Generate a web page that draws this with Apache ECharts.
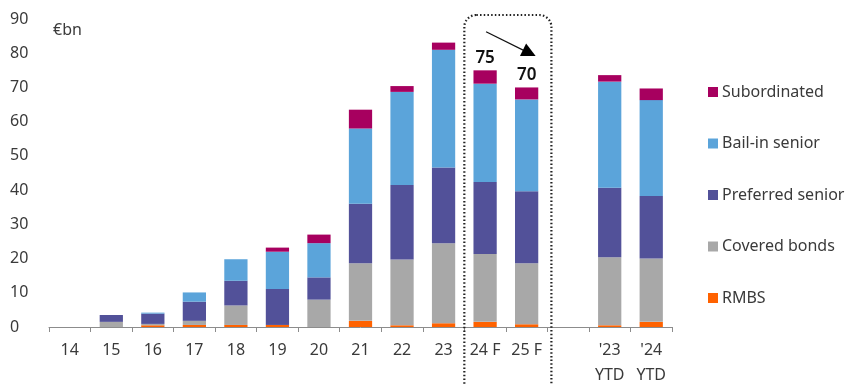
<!DOCTYPE html>
<html>
<head>
<meta charset="utf-8">
<script src="https://cdn.jsdelivr.net/npm/echarts@6/dist/echarts.min.js"></script>
<style>
  html, body { margin: 0; padding: 0; background: #fff; }
  #chart { width: 856px; height: 385px; }
</style>
</head>
<body>
<div id="chart"></div>
<script>
// Issuance by instrument type, €bn
const categories = ['14', '15', '16', '17', '18', '19', '20', '21', '22', '23', '24 F', '25 F', '', "'23\nYTD", "'24\nYTD"];
const rmbs         = [0, 0,   0.5, 0.6, 0.6, 0.6,  0,    1.8,  0.5,  1.1,  1.5,  0.8,  null, 0.5,  1.5];
const covered      = [0, 1.5, 0.4, 1.2, 5.7, 0,    8.0,  16.8, 19.2, 23.4, 19.8, 17.8, null, 19.9, 18.5];
const preferred    = [0, 2.0, 3.0, 5.6, 7.2, 10.5, 6.5,  17.4, 21.8, 22.1, 21.1, 21.1, null, 20.3, 18.3];
const bailIn       = [0, 0,   0.3, 2.7, 6.3, 10.9, 10.0, 22.0, 27.2, 34.4, 28.7, 26.8, null, 31.0, 28.0];
const subordinated = [0, 0,   0,   0,   0,   1.2,  2.5,  5.5,  1.7,  2.1,  3.9,  3.5,  null, 1.9,  3.4];
const forecastCats = ['24 F', '25 F'];

const colors = {
  rmbs: '#FF6200',
  covered: '#A8A8A8',
  preferred: '#525199',
  bailIn: '#5BA4DA',
  subordinated: '#A7005F'
};

const totals = categories.map((c, i) =>
  [rmbs, covered, preferred, bailIn, subordinated].reduce((s, arr) => s + (arr[i] || 0), 0));

const textColor = '#3a3a3a';
const font = 'Noto Sans';

function bar(name, data, color, withTotals) {
  const s = {
    name: name,
    type: 'bar',
    stack: 'total',
    barWidth: '56%',
    itemStyle: { color: color },
    data: data
  };
  if (withTotals) {
    s.data = data.map((v, i) => forecastCats.includes(categories[i])
      ? { value: v, label: { show: true } } : v);
    s.label = {
      show: false,
      position: 'top',
      distance: 4,
      fontFamily: font,
      fontSize: 17,
      fontWeight: 600,
      color: '#111',
      formatter: p => Math.round(totals[p.dataIndex])
    };
  }
  return s;
}

const chart = echarts.init(document.getElementById('chart'), null, { renderer: 'canvas' });

chart.setOption({
  animation: false,
  backgroundColor: '#fff',
  textStyle: { fontFamily: font },
  grid: { left: 49, right: 184, top: 19, bottom: 58, containLabel: false, outerBoundsMode: 'none' },
  legend: {
    orient: 'vertical',
    left: 708,
    top: 82,
    padding: 0,
    itemWidth: 10,
    itemHeight: 10,
    itemGap: 31.5,
    icon: 'rect',
    data: ['Subordinated', 'Bail-in senior', 'Preferred senior', 'Covered bonds', 'RMBS'],
    textStyle: { fontFamily: font, fontSize: 16, color: textColor, lineHeight: 20, padding: [0, 0, 0, -1] },
    selectedMode: false
  },
  xAxis: {
    type: 'category',
    data: categories,
    axisLine: { lineStyle: { color: '#8c8c8c', width: 1 } },
    axisTick: { show: true, alignWithLabel: false, length: 5, lineStyle: { color: '#8c8c8c' } },
    axisLabel: { fontFamily: font, fontSize: 16, color: textColor, margin: 11, lineHeight: 25, interval: 0 }
  },
  yAxis: {
    type: 'value',
    min: 0,
    max: 90,
    interval: 10,
    axisLine: { show: false },
    axisTick: { show: false },
    splitLine: { show: false },
    axisLabel: { fontFamily: font, fontSize: 16, color: textColor, align: 'left', margin: 39 }
  },
  series: [
    bar('RMBS', rmbs, colors.rmbs),
    bar('Covered bonds', covered, colors.covered),
    bar('Preferred senior', preferred, colors.preferred),
    bar('Bail-in senior', bailIn, colors.bailIn),
    bar('Subordinated', subordinated, colors.subordinated, true)
  ]
});

// Unit label, dotted frame round the forecast years and the downward-trend arrow
const p24 = chart.convertToPixel({ xAxisIndex: 0 }, '24 F');
const p25 = chart.convertToPixel({ xAxisIndex: 0 }, '25 F');
const half = (p25 - p24) / 2;
const yTop = chart.convertToPixel({ yAxisIndex: 0 }, 90);
const yArrowA = chart.convertToPixel({ yAxisIndex: 0 }, 86.3);
const yArrowB = chart.convertToPixel({ yAxisIndex: 0 }, 80.1);

function arrowHead(x1, y1, x2, y2, len, halfW) {
  const dx = x2 - x1, dy = y2 - y1;
  const d = Math.sqrt(dx * dx + dy * dy);
  const ux = dx / d, uy = dy / d;
  const bx = x2 - ux * len, by = y2 - uy * len;
  return [[x2, y2], [bx - uy * halfW, by + ux * halfW], [bx + uy * halfW, by - ux * halfW]];
}

chart.setOption({
  graphic: [
    {
      type: 'text',
      left: 53, top: 22,
      style: { text: '€bn', fontFamily: font, fontSize: 16, fill: textColor }
    },
    {
      type: 'rect',
      shape: { x: p24 - half, y: yTop - 4, width: 4 * half + 4, height: 385, r: 12 },
      style: { fill: 'none', stroke: '#222', lineWidth: 2.2, lineDash: [1.5, 2.2] },
      z: 10
    },
    {
      type: 'line',
      shape: { x1: p24 + 1, y1: yArrowA, x2: p25 + 2, y2: yArrowB },
      style: { stroke: '#111', lineWidth: 1.2 },
      z: 10
    },
    {
      type: 'polygon',
      shape: { points: arrowHead(p24 + 1, yArrowA, p25 + 9, yArrowB + 3, 14, 7) },
      style: { fill: '#000' },
      z: 10
    }
  ]
});
</script>
</body>
</html>
